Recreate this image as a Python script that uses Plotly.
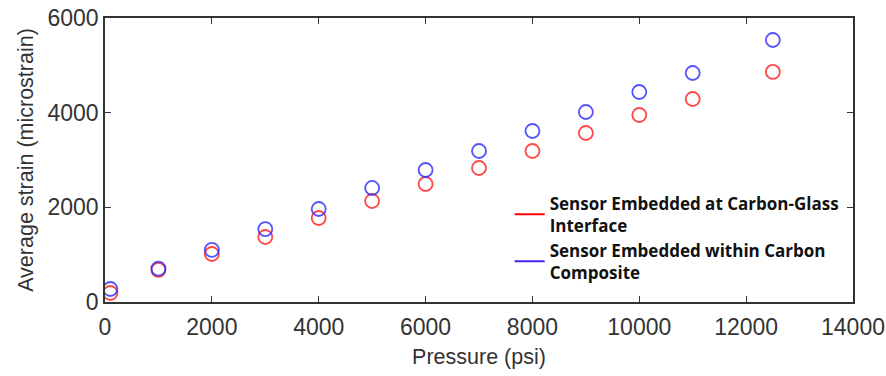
import plotly.graph_objects as go

pressure = [100, 1000, 2000, 3000, 4000, 5000, 6000, 7000, 8000, 9000, 10000, 11000, 12500]
strain_interface = [190, 680, 1014, 1373, 1775, 2134, 2493, 2831, 3190, 3570, 3951, 4289, 4860]
strain_carbon = [275, 706, 1100, 1540, 1965, 2409, 2789, 3190, 3613, 4014, 4437, 4838, 5535]
x_ticks = [0, 2000, 4000, 6000, 8000, 10000, 12000, 14000]
y_ticks = [0, 2000, 4000, 6000]
names = ["Sensor Embedded at Carbon-Glass<br>Interface",
         "Sensor Embedded within Carbon<br>Composite"]
red = "rgba(255,40,40,0.85)"
blue = "rgba(40,40,255,0.8)"

fig = go.Figure()
fig.add_trace(go.Scatter(x=pressure, y=strain_interface, mode="markers", showlegend=False,
                         marker=dict(symbol="circle-open", size=14, color=red, line=dict(width=1.8))))
fig.add_trace(go.Scatter(x=pressure, y=strain_carbon, mode="markers", showlegend=False,
                         marker=dict(symbol="circle-open", size=14, color=blue, line=dict(width=1.8))))
fig.add_trace(go.Scatter(x=[None], y=[None], mode="lines", name=names[0],
                         line=dict(color="#ff0000", width=2)))
fig.add_trace(go.Scatter(x=[None], y=[None], mode="lines", name=names[1],
                         line=dict(color="#4422ee", width=2)))

axis_common = dict(showline=True, linecolor="#333", linewidth=1.5, mirror="allticks",
                   ticks="inside", ticklen=6, tickcolor="#333", showgrid=False, zeroline=False,
                   automargin=False,
                   tickfont=dict(family="Liberation Sans", size=23, color="#333"),
                   title_font=dict(family="Liberation Sans", size=21.5, color="#333"))
fig.update_layout(
    width=886, height=376, paper_bgcolor="white", plot_bgcolor="white",
    margin=dict(l=105, r=33, t=18, b=74),
    xaxis=dict(range=[0, 14000], tickvals=x_ticks, ticktext=[str(v) for v in x_ticks],
               ticklabelstandoff=4,
               title=dict(text="Pressure (psi)", standoff=10), **axis_common),
    yaxis=dict(range=[0, 6000], tickvals=y_ticks, ticktext=[str(v) for v in y_ticks],
               title=dict(text="Average strain (microstrain)", standoff=8), **axis_common),
    legend=dict(x=0.541, y=0.41, xanchor="left", yanchor="top", bgcolor="rgba(0,0,0,0)",
                font=dict(family="Open Sans", size=17, color="#111", weight="bold"),
                tracegroupgap=0),
)
fig.write_html("out.html")
